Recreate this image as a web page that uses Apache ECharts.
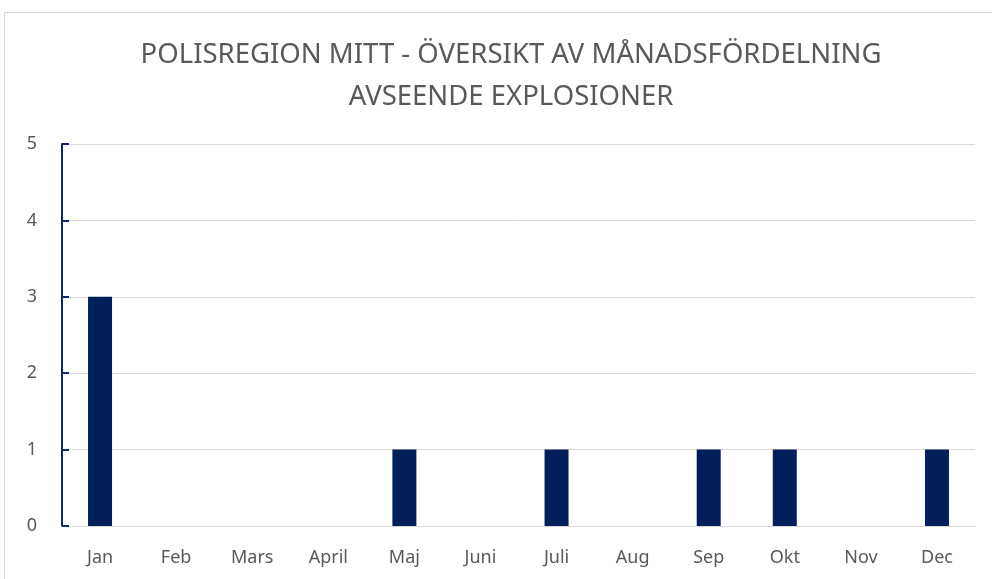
<!DOCTYPE html>
<html><head><meta charset="utf-8">
<script src="https://cdn.jsdelivr.net/npm/echarts@6/dist/echarts.min.js"></script>
<style>
html,body{margin:0;padding:0;background:#fff;}
#frame{position:absolute;left:4px;top:12px;width:990px;height:580px;border:1px solid #d9d9d9;box-sizing:border-box;}
#c{position:absolute;left:0;top:0;width:992px;height:579px;}
</style></head>
<body>
<div id="frame"></div>
<div id="c"></div>
<script>
const titleLines = ['POLISREGION MITT - ÖVERSIKT AV MÅNADSFÖRDELNING', 'AVSEENDE EXPLOSIONER'];
const categories = ['Jan','Feb','Mars','April','Maj','Juni','Juli','Aug','Sep','Okt','Nov','Dec'];
const values = [3,0,0,0,1,0,1,0,1,1,0,1];
const yTicks = [0,1,2,3,4,5];

const chart = echarts.init(document.getElementById('c'), null, {renderer:'canvas'});
chart.setOption({
  animation:false,
  backgroundColor:'transparent',
  title:{
    text: titleLines.join('\n'),
    left: 506, textAlign:'center', top: 29,
    textStyle:{fontFamily:'Noto Sans', fontSize:27.5, fontWeight:'normal', color:'#595959', lineHeight:42}
  },
  grid:{left:62, right:17, top:144, bottom:53},
  xAxis:{
    type:'category', data:categories,
    axisLine:{show:true, lineStyle:{color:'#d9d9d9', width:1}},
    axisTick:{show:false},
    axisLabel:{fontFamily:'Noto Sans', fontSize:18, color:'#595959', margin:23}
  },
  yAxis:{
    type:'value', min:yTicks[0], max:yTicks[yTicks.length-1], interval:1,
    axisLine:{show:true, lineStyle:{color:'#0f2a6b', width:2}},
    axisTick:{show:true, inside:true, length:7, lineStyle:{color:'#0f2a6b', width:2}},
    splitLine:{show:true, lineStyle:{color:'#d9d9d9', width:1}},
    axisLabel:{fontFamily:'Noto Sans', fontSize:18, color:'#595959', margin:25}
  },
  series:[{
    type:'bar', data:values, barWidth:24,
    itemStyle:{color:'#001f5b'}
  }]
});
</script>
</body></html>
